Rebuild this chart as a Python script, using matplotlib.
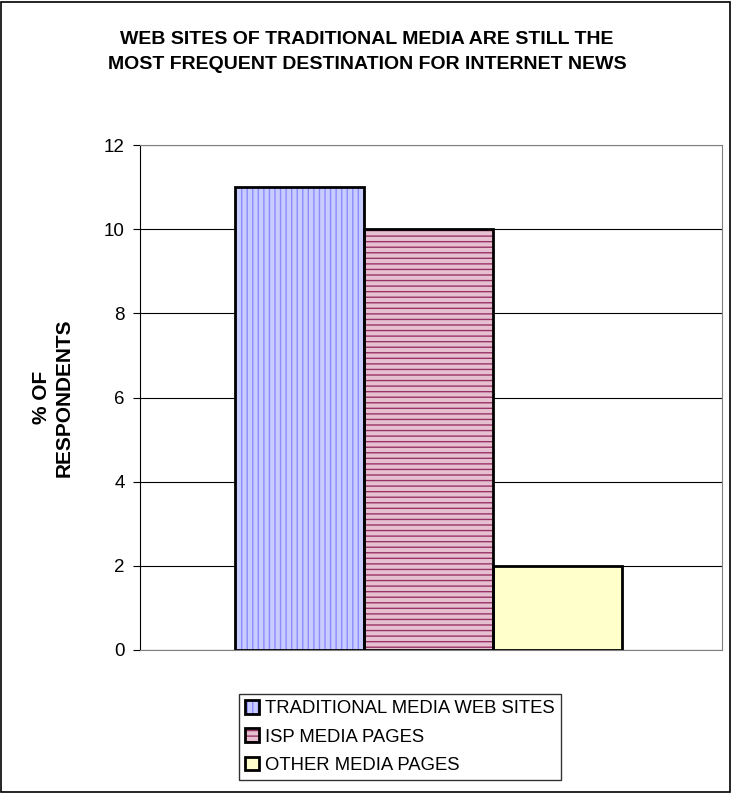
import numpy as np
import matplotlib.pyplot as plt
from matplotlib.patches import Patch, Rectangle
from matplotlib.legend_handler import HandlerTuple

plt.rcParams['font.family'] = ['Liberation Sans', 'DejaVu Sans']
plt.rcParams['hatch.linewidth'] = 1.0

series = ["TRADITIONAL MEDIA WEB SITES", "ISP MEDIA PAGES", "OTHER MEDIA PAGES"]
values = [11, 10, 2]
yticks = [0, 2, 4, 6, 8, 10, 12]

faces = ['#c8ccff', '#e6c0d0', '#ffffcc']
hatch_cols = ['#8c8cff', '#993366', '#ffffcc']
hatches = ['|||', '---', None]

fig = plt.figure(figsize=(7.31, 7.94), dpi=100)
fig.patches.append(Rectangle((0.002, 0.002), 0.996, 0.996, transform=fig.transFigure,
                             fill=False, edgecolor='black', linewidth=1.2))
ax = fig.add_axes([140 / 731, 1 - 650 / 794, 582 / 731, 505 / 794])

w = 129 / 582
x = np.array([-1, 0, 1]) * w - 0.005
handles = []
for i in range(3):
    ax.bar(x[i], values[i], width=w, color=faces[i], hatch=hatches[i],
           edgecolor=hatch_cols[i], linewidth=0, zorder=3)
    ax.bar(x[i], values[i], width=w, fill=False, edgecolor='black', linewidth=2, zorder=4)
    h1 = Patch(facecolor=faces[i], hatch=hatches[i], edgecolor=hatch_cols[i], linewidth=0)
    h2 = Patch(fill=False, edgecolor='black', linewidth=2)
    handles.append((h1, h2))

ax.set_xlim(-0.5, 0.5)
ax.set_ylim(0, 12)
ax.set_yticks(yticks)
ax.set_xticks([])
ax.grid(axis='y', color='black', linewidth=0.8, zorder=0)
for s in ['top', 'right', 'bottom']:
    ax.spines[s].set_color('#808080')
ax.spines['left'].set_color('black')
ax.tick_params(axis='y', labelsize=13.5, length=5, direction='out', pad=6)
ax.set_ylabel('% OF\nRESPONDENTS', fontsize=15, fontweight='bold', labelpad=22)

fig.suptitle('WEB SITES OF TRADITIONAL MEDIA ARE STILL THE\nMOST FREQUENT DESTINATION FOR INTERNET NEWS',
             fontsize=14, fontweight='bold', x=0.502, y=0.961, linespacing=1.6)

leg = fig.legend(handles, series, handler_map={tuple: HandlerTuple(ndivide=1, pad=0)},
                 loc='center', bbox_to_anchor=(400 / 731, 1 - 737 / 794),
                 fontsize=13.3, frameon=True, fancybox=False, edgecolor='black',
                 handlelength=0.75, handleheight=0.75, handletextpad=0.3,
                 labelspacing=0.6, borderpad=0.35, borderaxespad=0)
leg.get_frame().set_linewidth(1.0)

plt.savefig('out.png', dpi=100)
